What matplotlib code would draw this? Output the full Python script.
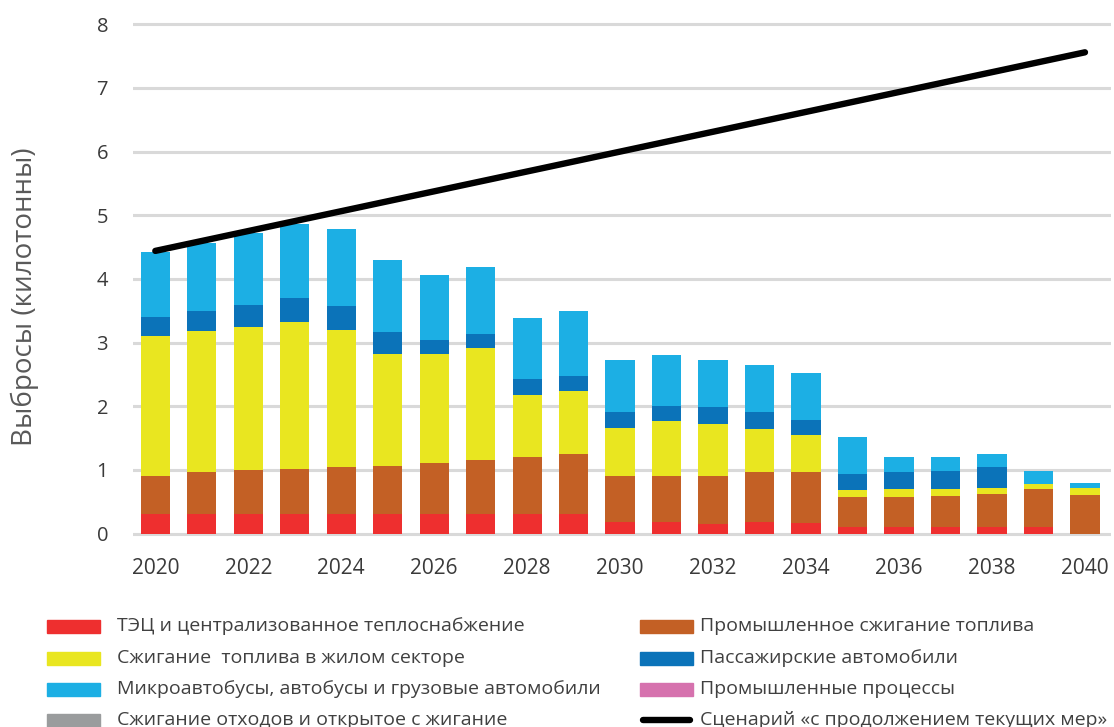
import matplotlib
matplotlib.use("Agg")
import matplotlib.pyplot as plt
from matplotlib.patches import Rectangle
from matplotlib.lines import Line2D
import numpy as np

plt.rcParams['font.family'] = ['Open Sans', 'DejaVu Sans']

years = list(range(2020, 2041))

# Emissions by source, kilotonnes
chp_district_heat = [0.31, 0.31, 0.31, 0.31, 0.31, 0.31, 0.31, 0.31, 0.31, 0.31,
                     0.175, 0.175, 0.15, 0.175, 0.165, 0.105, 0.105, 0.105, 0.105, 0.105, 0.0]
industrial_fuel = [0.60, 0.65, 0.685, 0.70, 0.73, 0.75, 0.80, 0.84, 0.89, 0.94,
                   0.735, 0.735, 0.76, 0.795, 0.805, 0.475, 0.465, 0.485, 0.515, 0.595, 0.60]
residential_fuel = [2.19, 2.22, 2.255, 2.32, 2.15, 1.76, 1.71, 1.77, 0.98, 0.99,
                    0.74, 0.85, 0.81, 0.67, 0.57, 0.11, 0.13, 0.11, 0.10, 0.08, 0.12]
passenger_cars = [0.30, 0.32, 0.34, 0.37, 0.39, 0.34, 0.22, 0.22, 0.24, 0.24,
                  0.26, 0.24, 0.27, 0.27, 0.25, 0.25, 0.27, 0.28, 0.32, 0.0, 0.0]
buses_trucks = [1.03, 1.06, 1.13, 1.16, 1.20, 1.13, 1.02, 1.05, 0.97, 1.01,
                0.82, 0.81, 0.73, 0.73, 0.73, 0.57, 0.23, 0.22, 0.21, 0.20, 0.07]
industrial_processes = [0.0] * 21
waste_burning = [0.0] * 21

scenario_years = [2020, 2040]
scenario_values = [4.44, 7.56]

series = [
    (chp_district_heat, '#EE2F2F', 'ТЭЦ и централизованное теплоснабжение'),
    (industrial_fuel, '#C36025', 'Промышленное сжигание топлива'),
    (residential_fuel, '#E9E620', 'Сжигание  топлива в жилом секторе'),
    (passenger_cars, '#0B73B9', 'Пассажирские автомобили'),
    (buses_trucks, '#1CAFE4', 'Микроавтобусы, автобусы и грузовые автомобили'),
    (industrial_processes, '#D672AE', 'Промышленные процессы'),
    (waste_burning, '#9A9C9D', 'Сжигание отходов и открытое с жигание'),
]
scenario_label = 'Сценарий «с продолжением текущих мер»'

W, H = 1114, 727
fig = plt.figure(figsize=(W / 100, H / 100), dpi=100)

ymin, ymax = -0.05, 8.1
px_per_unit = 63.65
zero_px = 533.5
ax_bottom_px = zero_px - ymin * px_per_unit
ax_top_px = zero_px - ymax * px_per_unit
ax = fig.add_axes([133 / W, 1 - ax_bottom_px / H, 978 / W, (ax_bottom_px - ax_top_px) / H])

x = np.array(years)
bottom = np.zeros(len(years))
for values, color, label in series:
    v = np.array(values)
    ax.bar(x, v, bottom=bottom, width=0.63, color=color, edgecolor='none', zorder=2)
    bottom += v

ax.plot(scenario_years, scenario_values, color='black', linewidth=4.6,
        solid_capstyle='round', zorder=3)

ax.set_xlim(2019.52, 2040.56)
ax.set_ylim(ymin, ymax)
ax.set_yticks(range(0, 9))
ax.set_xticks(range(2020, 2041, 2))
ax.grid(axis='y', color='#D9D9D9', linewidth=2.2, zorder=0)
ax.set_axisbelow(True)
for s in ax.spines.values():
    s.set_visible(False)
ax.tick_params(axis='both', length=0, labelsize=14.5, colors='#3A3A3A')
ax.tick_params(axis='y', pad=18)
ax.tick_params(axis='x', pad=15, labelsize=15)

fig.text(25 / W, 1 - 297 / H, 'Выбросы (килотонны)', rotation=90, fontsize=20,
         color='#595959', ha='center', va='center')

# Legend laid out in two columns beneath the plot
legend_rows = [626, 658, 689, 720]
legend_fs = 14
col1 = [series[0], series[2], series[4], series[6]]
col2 = [series[1], series[3], series[5]]
for (values, color, label), yc in zip(col1, legend_rows):
    fig.patches.append(Rectangle((47 / W, 1 - (yc + 6.5) / H), 53 / W, 13 / H,
                                 transform=fig.transFigure, color=color))
    fig.text(117 / W, 1 - yc / H, label, fontsize=legend_fs, color='#404040', va='center', ha='left')
for (values, color, label), yc in zip(col2, legend_rows):
    fig.patches.append(Rectangle((640 / W, 1 - (yc + 6.5) / H), 53 / W, 13 / H,
                                 transform=fig.transFigure, color=color))
    fig.text(700 / W, 1 - yc / H, label, fontsize=legend_fs, color='#404040', va='center', ha='left')
yc = legend_rows[3]
fig.lines.append(Line2D([643 / W, 690 / W], [1 - yc / H, 1 - yc / H], transform=fig.transFigure,
                        color='black', linewidth=4.6, solid_capstyle='round'))
fig.text(700 / W, 1 - yc / H, scenario_label, fontsize=legend_fs, color='#404040', va='center', ha='left')

fig.savefig('out.png', dpi=100)
